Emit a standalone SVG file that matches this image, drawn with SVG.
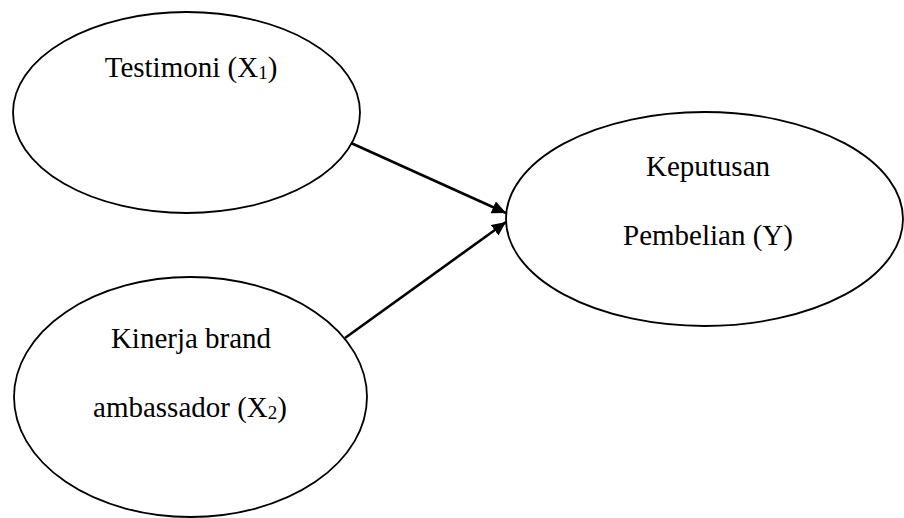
<svg xmlns="http://www.w3.org/2000/svg" width="904" height="518" viewBox="0 0 904 518">
<style>
.node ellipse{fill:#fff;stroke:#000;stroke-width:1.8}
.lbl{font-family:"Liberation Serif","Times New Roman",serif;font-size:29px;fill:#000;text-anchor:middle}
.sub{font-size:19px}
.conn line{stroke:#000;stroke-width:2.6;marker-end:url(#ah)}
</style>
<defs>
<marker id="ah" markerUnits="userSpaceOnUse" markerWidth="16" markerHeight="14" refX="14" refY="6.5" orient="auto">
<path d="M0,0 L14,6.5 L0,13 Z" fill="#000"/>
</marker>
</defs>
<rect width="904" height="518" fill="#fff"/>
<g id="x1" class="node">
<ellipse cx="186.5" cy="112.5" rx="173.5" ry="100.5"/>
<text class="lbl" x="191" y="77">Testimoni (X<tspan class="sub" dy="2">1</tspan><tspan dy="-2">)</tspan></text>
</g>
<g id="x2" class="node">
<ellipse cx="190.5" cy="397" rx="176.5" ry="120"/>
<text class="lbl" x="191" y="348">Kinerja brand</text>
<text class="lbl" x="190" y="417">ambassador (X<tspan class="sub" dy="2">2</tspan><tspan dy="-2">)</tspan></text>
</g>
<g id="y" class="node">
<ellipse cx="704.5" cy="219" rx="198.5" ry="107"/>
<text class="lbl" x="708" y="176">Keputusan</text>
<text class="lbl" x="708" y="245">Pembelian (Y)</text>
</g>
<g id="connectors" class="conn">
<line x1="351" y1="143" x2="506" y2="213"/>
<line x1="345" y1="338" x2="506" y2="222"/>
</g>
</svg>
